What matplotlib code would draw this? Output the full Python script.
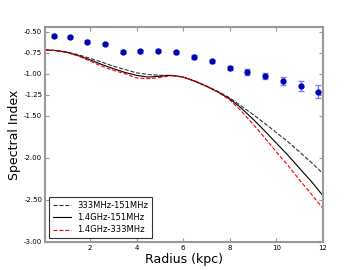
import numpy as np
import matplotlib
matplotlib.use("Agg")
import matplotlib.pyplot as plt

# observed spectral index profile
r_obs = [0.46, 1.14, 1.88, 2.66, 3.40, 4.16, 4.94, 5.70,
         6.46, 7.22, 7.99, 8.76, 9.51, 10.29, 11.04, 11.81]
alpha_obs = [-0.548, -0.563, -0.619, -0.646, -0.738, -0.734, -0.726, -0.745,
             -0.800, -0.852, -0.928, -0.980, -1.027, -1.090, -1.146, -1.214]
alpha_err = [0.015, 0.015, 0.015, 0.015, 0.02, 0.02, 0.02, 0.02,
             0.02, 0.02, 0.025, 0.03, 0.035, 0.045, 0.058, 0.075]

# model curves
r_mod = [0.07, 0.5, 1.0, 1.5, 2.0, 2.5, 3.0, 3.5, 4.0, 4.5, 5.0, 5.5, 6.0,
         6.5, 7.0, 7.5, 8.0, 8.5, 9.0, 9.5, 10.0, 10.5, 11.0, 11.5, 12.0]
m_333_151 = [-0.718, -0.722, -0.740, -0.775, -0.817, -0.862, -0.910, -0.950,
             -0.990, -1.010, -1.020, -1.020, -1.040, -1.085, -1.145, -1.212,
             -1.288, -1.385, -1.485, -1.590, -1.700, -1.810, -1.930, -2.055, -2.186]
m_14_151 = [-0.718, -0.724, -0.745, -0.785, -0.835, -0.890, -0.940, -0.985,
            -1.020, -1.040, -1.030, -1.020, -1.040, -1.090, -1.150, -1.218,
            -1.300, -1.410, -1.540, -1.680, -1.825, -1.970, -2.126, -2.280, -2.450]
m_14_333 = [-0.718, -0.726, -0.748, -0.790, -0.850, -0.910, -0.960, -1.000,
            -1.050, -1.060, -1.045, -1.025, -1.040, -1.090, -1.150, -1.222,
            -1.312, -1.445, -1.600, -1.760, -1.930, -2.090, -2.265, -2.430, -2.600]

yticks = [-0.5, -0.75, -1.0, -1.25, -1.5, -2.0, -2.5, -3.0]
xticks = [2, 4, 6, 8, 10, 12]

fig = plt.figure(figsize=(3.6, 2.7), dpi=100)
ax = fig.add_axes([0.125, 0.104, 0.772, 0.796])

ax.errorbar(r_obs, alpha_obs, yerr=alpha_err, fmt='o', color='#0000cc',
            ecolor='#8080ff', elinewidth=1, capsize=2, markersize=3.5,
            markeredgecolor='#0000aa', zorder=3)
ax.plot(r_mod, m_333_151, '--', color='#333333', lw=0.8, label='333MHz-151MHz')
ax.plot(r_mod, m_14_151, '-', color='black', lw=0.8, label='1.4GHz-151MHz')
ax.plot(r_mod, m_14_333, '--', color='red', lw=0.8, label='1.4GHz-333MHz')

ax.set_xlim(0.07, 12)
ax.set_ylim(-3.0, -0.445)
ax.set_xticks(xticks)
ax.set_yticks(yticks)
ax.set_yticklabels(['%.2f' % v for v in yticks])
ax.tick_params(direction='in', top=True, right=True, labelsize=5,
               length=3, color='#999999', pad=2)
for s in ax.spines.values():
    s.set_color('#999999')
    s.set_linewidth(1.5)

ax.set_xlabel('Radius (kpc)', fontsize=9, labelpad=2)
ax.set_ylabel('Spectral Index', fontsize=9, labelpad=2)

leg = ax.legend(loc='lower left', fontsize=6, frameon=True, fancybox=False,
                handlelength=2.2, borderpad=0.4, labelspacing=0.4)
leg.get_frame().set_edgecolor('black')
leg.get_frame().set_linewidth(0.8)

fig.savefig('out.png', dpi=100)
